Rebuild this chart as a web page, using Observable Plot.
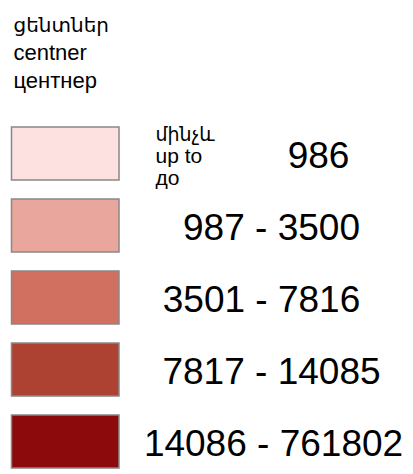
<!DOCTYPE html>
<html>
<head>
<meta charset="utf-8">
<script src="https://cdn.jsdelivr.net/npm/d3@7"></script>
<script src="https://cdn.jsdelivr.net/npm/@observablehq/plot@0.6"></script>
<style>
  html, body { margin: 0; padding: 0; background: #ffffff; }
</style>
</head>
<body>
<div id="chart"></div>
<script>
// ---- data ----
const unitTitle = ["ցենտներ", "centner", "центнер"];
const upToLabel = ["մինչև", "up to", "до"];
const lowerBounds = [null, 987, 3501, 7817, 14086];
const upperBounds = [986, 3500, 7816, 14085, 761802];
const classes = upperBounds.map((u, i) => lowerBounds[i] == null ? `${u}` : `${lowerBounds[i]} - ${u}`);

// ---- styling / layout (not data) ----
const palette = ["#fde0e0", "#e9a69c", "#d17061", "#ae4232", "#8c0a0c"];
const labelCenterX = [318, 271, 261, 271, 273];
const titleBaselines = [31, 59, 87];
const titleSizes = [20, 22, 22];
const upToBaselines = [140, 162, 184];
const upToSizes = [19, 21, 21];
const sansFont = "Liberation Sans, Arial, DejaVu Sans, sans-serif";

const rows = classes.map((c, i) => ({cls: c, i}));

const lineMarks = (lines, x, baselines, sizes) => lines.map((t, i) =>
  Plot.text([t], {
    frameAnchor: "top-left", text: d => d, dx: x, dy: baselines[i],
    textAnchor: "start", lineAnchor: "bottom", fontSize: sizes[i],
    fontFamily: sansFont, fill: "#000000"
  })
);

const chart = Plot.plot({
  width: 413,
  height: 474,
  margin: 0,
  style: {background: "#ffffff"},
  x: {type: "linear", domain: [0, 413], range: [0, 413], axis: null},
  y: {type: "band", domain: classes, range: [125, 470], paddingInner: 0.258, paddingOuter: 0, axis: null},
  color: {type: "ordinal", domain: classes, range: palette},
  marks: [
    Plot.barX(rows, {x1: 11.5, x2: 119, y: "cls", fill: "cls", stroke: "#888888", strokeWidth: 1.5}),
    Plot.text(rows, {
      x: d => labelCenterX[d.i], y: "cls", text: "cls",
      fontSize: 37, fontFamily: sansFont,
      fill: "#000000", textAnchor: "middle", dy: 2
    }),
    ...lineMarks(upToLabel, 155, upToBaselines, upToSizes),
    ...lineMarks(unitTitle, 13, titleBaselines, titleSizes)
  ]
});
document.getElementById("chart").appendChild(chart);
</script>
</body>
</html>
